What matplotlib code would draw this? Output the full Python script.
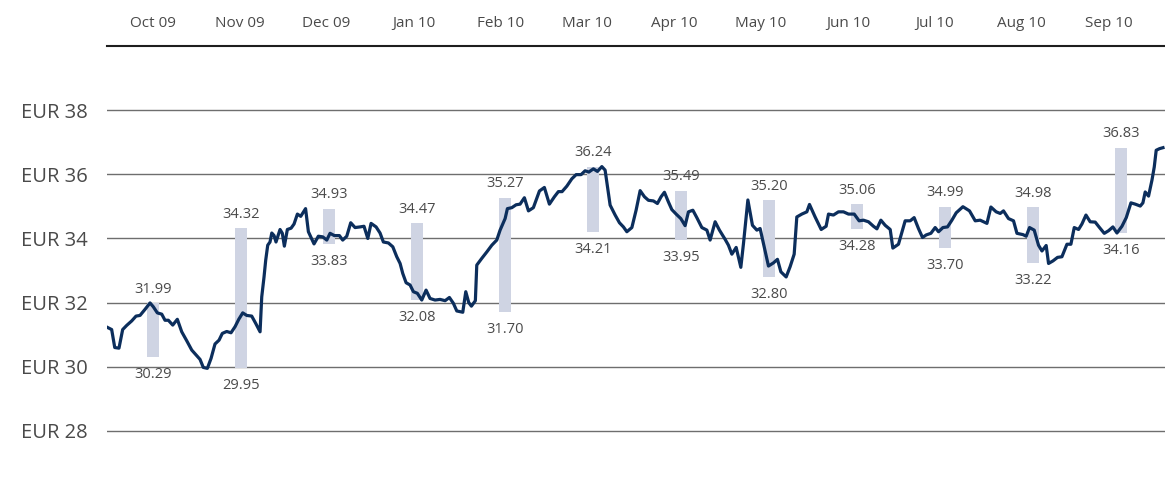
import numpy as np
import matplotlib.pyplot as plt

plt.rcParams["font.family"] = ["Open Sans", "DejaVu Sans"]

# months elapsed since 1 Oct 2009 and closing price (EUR)
T = [0.003, 0.053, 0.088, 0.136, 0.178, 0.224, 0.281, 0.330, 0.375, 0.432,
     0.489, 0.526, 0.572, 0.622, 0.659, 0.697, 0.747, 0.799, 0.849, 0.906,
     0.963, 1.019, 1.057, 1.094, 1.140, 1.182, 1.227, 1.273, 1.310, 1.360,
     1.409, 1.455, 1.497, 1.542, 1.588, 1.644, 1.690, 1.739, 1.758, 1.784,
     1.803, 1.826, 1.852, 1.872, 1.898, 1.920, 1.966, 1.992, 2.015, 2.049,
     2.091, 2.125, 2.163, 2.201, 2.256, 2.288, 2.352, 2.401, 2.451, 2.497,
     2.534, 2.583, 2.640, 2.678, 2.724, 2.769, 2.818, 2.875, 2.920, 2.963,
     3.000, 3.057, 3.102, 3.140, 3.197, 3.247, 3.292, 3.330, 3.360, 3.398,
     3.443, 3.481, 3.526, 3.576, 3.625, 3.670, 3.727, 3.784, 3.841, 3.890,
     3.935, 3.974, 4.042, 4.076, 4.110, 4.140, 4.185, 4.201, 4.258, 4.315,
     4.372, 4.428, 4.466, 4.523, 4.549, 4.599, 4.648, 4.693, 4.742, 4.788,
     4.844, 4.913, 4.969, 5.026, 5.083, 5.128, 5.170, 5.224, 5.281, 5.330,
     5.386, 5.432, 5.474, 5.526, 5.572, 5.622, 5.659, 5.716, 5.773, 5.822,
     5.867, 5.906, 5.963, 6.011, 6.057, 6.106, 6.151, 6.208, 6.253, 6.295,
     6.333, 6.378, 6.417, 6.466, 6.519, 6.568, 6.606, 6.656, 6.701, 6.758,
     6.815, 6.852, 6.909, 6.958, 7.023, 7.060, 7.099, 7.148, 7.201, 7.231,
     7.281, 7.333, 7.383, 7.420, 7.458, 7.515, 7.572, 7.617, 7.656, 7.716,
     7.761, 7.807, 7.837, 7.894, 7.951, 7.981, 8.045, 8.114, 8.170, 8.197,
     8.253, 8.310, 8.367, 8.424, 8.489, 8.545, 8.594, 8.651, 8.708, 8.747,
     8.792, 8.841, 8.898, 8.928, 8.992, 9.068, 9.125, 9.170, 9.219, 9.265,
     9.307, 9.360, 9.409, 9.447, 9.497, 9.549, 9.599, 9.648, 9.724, 9.799,
     9.864, 9.920, 9.997, 10.042, 10.102, 10.148, 10.185, 10.242, 10.299, 10.338,
     10.406, 10.443, 10.481, 10.534, 10.583, 10.622, 10.670, 10.697, 10.747, 10.799,
     10.849, 10.906, 10.951, 10.989, 11.038, 11.076, 11.122, 11.170, 11.227, 11.276,
     11.330, 11.378, 11.428, 11.474, 11.531, 11.580, 11.633, 11.682, 11.739, 11.769,
     11.795, 11.833, 11.872, 11.898, 11.920, 11.958, 11.997]
PRICE = [31.23, 31.16, 30.60, 30.58, 31.16, 31.29, 31.43, 31.58, 31.60, 31.79,
         31.99, 31.87, 31.68, 31.64, 31.45, 31.45, 31.30, 31.48, 31.09, 30.81,
         30.52, 30.35, 30.23, 29.98, 29.95, 30.26, 30.71, 30.83, 31.04, 31.10,
         31.06, 31.25, 31.48, 31.68, 31.60, 31.58, 31.35, 31.09, 32.18, 32.80,
         33.32, 33.79, 33.89, 34.17, 34.09, 33.89, 34.28, 34.16, 33.76, 34.28,
         34.32, 34.45, 34.76, 34.69, 34.93, 34.21, 33.83, 34.07, 34.05, 33.95,
         34.16, 34.09, 34.09, 33.95, 34.07, 34.49, 34.34, 34.36, 34.38, 34.00,
         34.47, 34.36, 34.17, 33.89, 33.86, 33.74, 33.43, 33.22, 32.91, 32.62,
         32.55, 32.34, 32.29, 32.08, 32.39, 32.13, 32.08, 32.10, 32.06, 32.16,
         31.98, 31.74, 31.70, 32.34, 32.00, 31.89, 32.06, 33.17, 33.38, 33.58,
         33.79, 33.95, 34.26, 34.62, 34.93, 34.96, 35.05, 35.07, 35.27, 34.86,
         34.96, 35.48, 35.59, 35.07, 35.30, 35.46, 35.46, 35.63, 35.86, 35.99,
         35.99, 36.11, 36.07, 36.17, 36.09, 36.24, 36.13, 35.04, 34.73, 34.49,
         34.36, 34.21, 34.34, 34.88, 35.49, 35.30, 35.19, 35.17, 35.09, 35.30,
         35.44, 35.14, 34.90, 34.76, 34.62, 34.40, 34.83, 34.88, 34.65, 34.34,
         34.26, 33.95, 34.52, 34.26, 33.97, 33.79, 33.51, 33.72, 33.10, 33.84,
         35.20, 34.41, 34.26, 34.31, 33.84, 33.14, 33.24, 33.35, 32.96, 32.80,
         33.12, 33.51, 34.67, 34.76, 34.83, 35.06, 34.67, 34.28, 34.38, 34.76,
         34.73, 34.83, 34.83, 34.76, 34.76, 34.55, 34.57, 34.52, 34.38, 34.30,
         34.57, 34.41, 34.28, 33.70, 33.82, 34.55, 34.55, 34.65, 34.31, 34.03,
         34.11, 34.16, 34.34, 34.21, 34.34, 34.36, 34.57, 34.80, 34.99, 34.86,
         34.55, 34.57, 34.47, 34.98, 34.83, 34.78, 34.86, 34.62, 34.55, 34.16,
         34.12, 34.07, 34.34, 34.26, 33.79, 33.61, 33.78, 33.22, 33.30, 33.41,
         33.43, 33.82, 33.82, 34.34, 34.28, 34.45, 34.73, 34.52, 34.51, 34.34,
         34.16, 34.24, 34.36, 34.17, 34.38, 34.65, 35.11, 35.07, 35.01, 35.11,
         35.45, 35.32, 35.82, 36.23, 36.75, 36.80, 36.83]

MONTHS = ["Oct 09", "Nov 09", "Dec 09", "Jan 10", "Feb 10", "Mar 10",
          "Apr 10", "May 10", "Jun 10", "Jul 10", "Aug 10", "Sep 10"]
HIGH = [31.99, 34.32, 34.93, 34.47, 35.27, 36.24, 35.49, 35.20, 35.06, 34.99, 34.98, 36.83]
LOW = [30.29, 29.95, 33.83, 32.08, 31.70, 34.21, 33.95, 32.80, 34.28, 33.70, 33.22, 34.16]
Y_TICKS = [28, 30, 32, 34, 36, 38]

LINE_C = "#0c2e5c"
BAR_C = "#cfd4e3"
TEXT_C = "#4a4a4a"

fig = plt.figure(figsize=(11.65, 4.88), dpi=100)
ax = fig.add_axes([107 / 1165, 1 - 463 / 488, 1 - 107 / 1165, 417 / 488])

# monthly high/low range bars
bar_x = np.arange(len(MONTHS)) + 0.52
high = np.array(HIGH)
low = np.array(LOW)
ax.bar(bar_x, high - low, bottom=low, width=0.136, color=BAR_C, zorder=2)

ax.plot(T, PRICE, color=LINE_C, linewidth=2.3, solid_joinstyle="round", zorder=3)

for x, hi, lo in zip(bar_x, HIGH, LOW):
    ax.annotate(f"{hi:.2f}", (x, hi), xytext=(0, 10), textcoords="offset points",
                ha="center", va="center", fontsize=10.5, color=TEXT_C)
    ax.annotate(f"{lo:.2f}", (x, lo), xytext=(0, -12.5), textcoords="offset points",
                ha="center", va="center", fontsize=10.5, color=TEXT_C)

ax.set_xlim(0, 12.02)
ax.set_ylim(27, 40)

ax.set_yticks(Y_TICKS)
ax.set_yticklabels([f"EUR {v}" for v in Y_TICKS])
ax.grid(True, axis="y", color="#6e6e6e", linewidth=1.0, zorder=1)
ax.set_axisbelow(True)

ax.xaxis.set_ticks_position("top")
ax.set_xticks(np.linspace(0.52, 11.38, len(MONTHS)))
ax.set_xticklabels(MONTHS)

ax.tick_params(axis="x", length=0, pad=11, labelsize=11, colors=TEXT_C)
ax.tick_params(axis="y", length=0, pad=14, labelsize=14.5, colors=TEXT_C)

for side in ("left", "right", "bottom"):
    ax.spines[side].set_visible(False)
ax.spines["top"].set_color("#1e1e1e")
ax.spines["top"].set_linewidth(1.5)

fig.savefig("out.png", dpi=100, facecolor="white")
